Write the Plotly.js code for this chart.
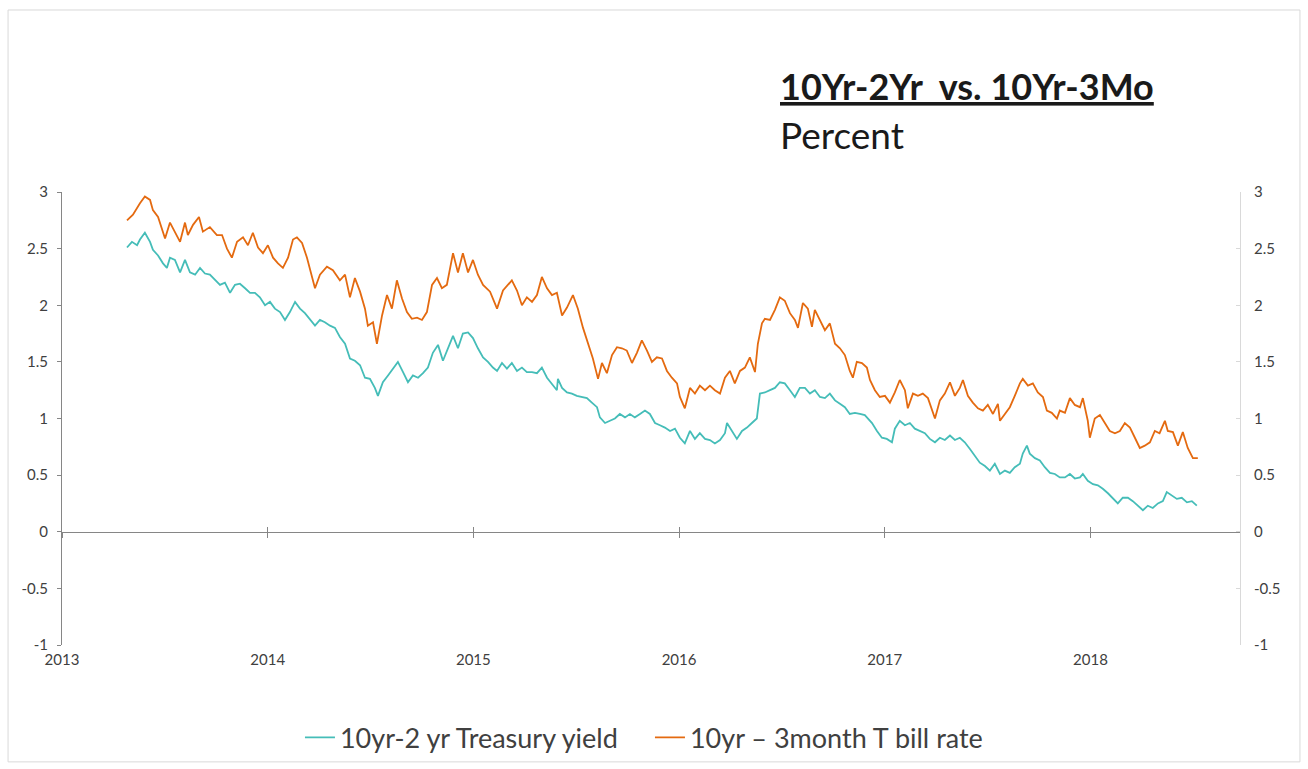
<!DOCTYPE html>
<html><head><meta charset="utf-8">
<script src="https://cdn.plot.ly/plotly-3.0.1.min.js"></script>
<style>html,body{margin:0;padding:0;background:#fff}#chart{width:1308px;height:769px}</style>
</head><body><div id="chart"></div>
<script>
// 10yr - 2yr Treasury spread (decimal year, percent)
const dates2y = [2013.316,2013.340,2013.365,2013.379,2013.403,2013.428,2013.442,2013.467,2013.491,2013.510,2013.525,2013.549,2013.574,2013.598,2013.622,2013.647,2013.671,2013.695,2013.719,2013.744,2013.768,2013.792,2013.817,2013.841,2013.865,2013.890,2013.914,2013.938,2013.962,2013.987,
2014.011,2014.035,2014.060,2014.084,2014.108,2014.133,2014.157,2014.181,2014.206,2014.230,2014.254,2014.278,2014.303,2014.327,2014.351,2014.376,2014.400,2014.424,2014.449,2014.473,2014.497,2014.521,2014.536,2014.560,2014.585,2014.609,2014.633,2014.658,2014.682,2014.706,2014.731,2014.755,2014.779,2014.803,2014.828,2014.852,2014.876,2014.901,2014.925,2014.949,2014.974,2014.998,
2015.022,2015.047,2015.071,2015.095,2015.115,2015.139,2015.163,2015.187,2015.212,2015.236,2015.260,2015.285,2015.309,2015.333,2015.358,2015.382,2015.406,2015.411,2015.431,2015.455,2015.479,2015.503,2015.528,2015.552,2015.576,2015.601,2015.615,2015.640,2015.664,2015.688,2015.712,2015.737,2015.761,2015.785,2015.810,2015.834,2015.858,2015.883,2015.907,2015.931,2015.956,2015.980,
2016.004,2016.028,2016.053,2016.077,2016.101,2016.126,2016.150,2016.174,2016.199,2016.223,2016.233,2016.257,2016.281,2016.306,2016.330,2016.354,2016.378,2016.393,2016.417,2016.442,2016.466,2016.490,2016.514,2016.539,2016.563,2016.587,2016.612,2016.636,2016.660,2016.685,2016.709,2016.733,2016.758,2016.782,2016.806,2016.830,2016.855,2016.879,2016.903,2016.913,2016.938,2016.962,2016.986,
2017.010,2017.035,2017.049,2017.073,2017.098,2017.122,2017.146,2017.171,2017.195,2017.219,2017.244,2017.268,2017.292,2017.317,2017.341,2017.365,2017.389,2017.414,2017.438,2017.462,2017.487,2017.511,2017.535,2017.560,2017.584,2017.608,2017.632,2017.657,2017.671,2017.691,2017.705,2017.730,2017.754,2017.778,2017.803,2017.827,2017.851,2017.876,2017.900,2017.924,2017.949,2017.963,2017.987,
2018.012,2018.036,2018.060,2018.085,2018.109,2018.133,2018.157,2018.182,2018.206,2018.230,2018.255,2018.279,2018.303,2018.328,2018.352,2018.371,2018.396,2018.420,2018.444,2018.469,2018.493,2018.517];
const spread2y = [2.51,2.56,2.53,2.58,2.64,2.56,2.49,2.44,2.37,2.33,2.42,2.40,2.29,2.40,2.29,2.27,2.33,2.28,2.27,2.22,2.18,2.20,2.11,2.18,2.19,2.15,2.11,2.11,2.07,2.00,
2.03,1.97,1.94,1.87,1.94,2.03,1.97,1.93,1.87,1.82,1.87,1.85,1.82,1.80,1.72,1.66,1.53,1.51,1.47,1.36,1.35,1.27,1.20,1.32,1.38,1.44,1.50,1.41,1.32,1.38,1.36,1.40,1.45,1.58,1.65,1.51,1.62,1.73,1.62,1.75,1.76,1.71,
1.62,1.54,1.50,1.45,1.42,1.49,1.44,1.49,1.42,1.45,1.41,1.41,1.40,1.45,1.36,1.31,1.25,1.35,1.27,1.23,1.22,1.20,1.19,1.18,1.14,1.10,1.01,0.96,0.98,1.00,1.04,1.01,1.04,1.01,1.04,1.07,1.04,0.96,0.94,0.92,0.89,0.91,
0.83,0.78,0.89,0.82,0.87,0.82,0.81,0.78,0.81,0.87,0.96,0.89,0.82,0.89,0.92,0.96,1.00,1.22,1.23,1.25,1.27,1.32,1.31,1.25,1.19,1.27,1.27,1.22,1.25,1.19,1.18,1.22,1.16,1.13,1.10,1.04,1.05,1.04,1.03,1.01,0.96,0.89,0.83,
0.82,0.79,0.91,0.98,0.94,0.96,0.91,0.89,0.87,0.82,0.79,0.83,0.81,0.85,0.81,0.83,0.79,0.73,0.67,0.61,0.58,0.54,0.60,0.51,0.54,0.52,0.57,0.60,0.69,0.76,0.69,0.65,0.63,0.57,0.52,0.51,0.48,0.48,0.51,0.47,0.48,0.51,0.45,
0.42,0.41,0.38,0.34,0.29,0.25,0.30,0.30,0.27,0.23,0.19,0.23,0.21,0.25,0.27,0.35,0.32,0.29,0.30,0.26,0.27,0.23];

// 10yr - 3month T bill spread (decimal year, percent)
const dates3m = [2013.316,2013.345,2013.379,2013.403,2013.428,2013.442,2013.467,2013.501,2013.525,2013.549,2013.574,2013.598,2013.612,2013.637,2013.666,2013.685,2013.719,2013.753,2013.778,2013.802,2013.826,2013.851,2013.880,2013.904,2013.928,2013.953,2013.977,
2014.001,2014.026,2014.050,2014.074,2014.099,2014.123,2014.142,2014.167,2014.191,2014.215,2014.230,2014.254,2014.288,2014.317,2014.351,2014.376,2014.400,2014.424,2014.449,2014.473,2014.487,2014.512,2014.531,2014.556,2014.580,2014.604,2014.628,2014.653,2014.677,2014.701,2014.726,2014.750,2014.774,2014.799,2014.823,2014.847,2014.871,2014.901,2014.925,2014.949,2014.974,2014.998,
2015.022,2015.047,2015.081,2015.115,2015.144,2015.187,2015.212,2015.236,2015.260,2015.285,2015.309,2015.333,2015.358,2015.382,2015.406,2015.431,2015.455,2015.484,2015.508,2015.533,2015.557,2015.581,2015.606,2015.625,2015.649,2015.674,2015.698,2015.722,2015.746,2015.771,2015.795,2015.819,2015.844,2015.868,2015.892,2015.917,2015.941,2015.965,2015.990,
2016.004,2016.028,2016.053,2016.077,2016.101,2016.126,2016.150,2016.174,2016.199,2016.223,2016.247,2016.271,2016.296,2016.320,2016.344,2016.369,2016.383,2016.403,2016.417,2016.442,2016.466,2016.490,2016.514,2016.539,2016.563,2016.578,2016.602,2016.626,2016.646,2016.660,2016.685,2016.709,2016.733,2016.758,2016.782,2016.806,2016.830,2016.845,2016.864,2016.889,2016.913,2016.928,2016.952,2016.976,
2017.001,2017.025,2017.049,2017.073,2017.098,2017.112,2017.137,2017.161,2017.185,2017.210,2017.244,2017.268,2017.292,2017.317,2017.341,2017.365,2017.380,2017.404,2017.428,2017.453,2017.477,2017.501,2017.526,2017.550,2017.560,2017.584,2017.608,2017.632,2017.657,2017.671,2017.696,2017.720,2017.744,2017.769,2017.788,2017.812,2017.837,2017.851,2017.876,2017.900,2017.924,2017.949,2017.963,2017.987,2017.997,
2018.021,2018.046,2018.070,2018.094,2018.119,2018.143,2018.167,2018.192,2018.216,2018.240,2018.264,2018.289,2018.313,2018.336,2018.362,2018.376,2018.401,2018.425,2018.449,2018.473,2018.498,2018.522];
const spread3m = [2.75,2.80,2.90,2.96,2.93,2.84,2.78,2.59,2.73,2.65,2.56,2.73,2.62,2.71,2.78,2.65,2.69,2.62,2.62,2.50,2.42,2.56,2.60,2.53,2.64,2.51,2.46,
2.53,2.42,2.37,2.33,2.42,2.58,2.60,2.55,2.42,2.24,2.15,2.27,2.34,2.31,2.22,2.27,2.07,2.24,2.12,1.97,1.82,1.85,1.66,1.91,2.09,1.97,2.22,2.06,1.94,1.88,1.89,1.87,1.94,2.18,2.24,2.15,2.18,2.46,2.29,2.46,2.29,2.40,
2.27,2.18,2.12,1.97,2.13,2.22,2.13,2.00,2.07,2.03,2.09,2.25,2.15,2.09,2.11,1.91,1.98,2.09,1.97,1.80,1.67,1.53,1.35,1.49,1.40,1.56,1.63,1.62,1.60,1.49,1.58,1.69,1.60,1.50,1.54,1.53,1.42,1.36,1.31,
1.19,1.09,1.27,1.22,1.29,1.25,1.29,1.25,1.22,1.36,1.42,1.31,1.42,1.45,1.54,1.41,1.66,1.84,1.88,1.87,1.96,2.07,2.04,1.93,1.87,1.80,2.02,1.97,1.81,1.96,1.87,1.78,1.84,1.66,1.62,1.56,1.42,1.36,1.50,1.49,1.45,1.34,1.25,1.19,
1.20,1.14,1.23,1.34,1.25,1.09,1.22,1.20,1.22,1.18,1.00,1.16,1.22,1.32,1.20,1.27,1.34,1.20,1.14,1.09,1.07,1.12,1.04,1.13,0.98,1.04,1.10,1.20,1.31,1.35,1.29,1.31,1.23,1.19,1.07,1.05,1.00,1.07,1.05,1.18,1.12,1.10,1.18,0.98,0.83,
1.00,1.03,0.96,0.89,0.87,0.89,0.96,0.92,0.83,0.74,0.76,0.79,0.89,0.87,0.98,0.89,0.88,0.76,0.88,0.74,0.65,0.65];

const yearTicks = [2013,2014,2015,2016,2017,2018];
const yearLabels = ['2013','2014','2015','2016','2017','2018'];
const yTickVals = [-1,-0.5,0,0.5,1,1.5,2,2.5,3];
const yTickText = ['-1','-0.5','0','0.5','1','1.5','2','2.5','3'];
const seriesNames = ['10yr-2 yr Treasury yield','10yr \u2013 3month T bill rate'];
const xRange = [2013, 2018.727];

const FONT = 'Lato, Carlito, "Open Sans", sans-serif';
const traces = [
  {x: dates2y, y: spread2y, name: seriesNames[0], type: 'scatter', mode: 'lines',
   xaxis: 'x', yaxis: 'y', line: {color: '#45BDB8', width: 1.8}},
  {x: dates3m, y: spread3m, name: seriesNames[1], type: 'scatter', mode: 'lines',
   xaxis: 'x2', yaxis: 'y2', line: {color: '#E46A10', width: 1.8}},
  // empty helper trace so the upward half of the zero-line ticks is drawn
  {x: [], y: [], type: 'scatter', mode: 'lines', xaxis: 'x3', yaxis: 'y', showlegend: false, hoverinfo: 'skip'}
];

const layout = {
  width: 1308, height: 769,
  paper_bgcolor: '#ffffff', plot_bgcolor: 'rgba(0,0,0,0)',
  margin: {l: 62, r: 68, t: 192, b: 124, autoexpand: false},
  font: {family: FONT, color: '#404040'},
  showlegend: true,
  legend: {orientation: 'h', x: 0.2020, xanchor: 'left', y: -0.205, yanchor: 'middle',
           entrywidth: 305, entrywidthmode: 'pixels',
           font: {family: FONT, size: 27, color: '#404040'}, bgcolor: 'rgba(0,0,0,0)'},
  xaxis: {range: xRange, tickvals: yearTicks, ticktext: yearLabels, showline: false, ticks: '',
          showgrid: false, zeroline: false, tickfont: {size: 15, color: '#404040'}, ticklabelstandoff: 4, automargin: false},
  xaxis2: {range: xRange, overlaying: 'x', anchor: 'free', position: 0.25, tickvals: yearTicks,
           showticklabels: false, ticks: 'outside', ticklen: 5, tickcolor: '#868686', tickwidth: 1,
           showline: true, linecolor: '#868686', linewidth: 1, showgrid: false, zeroline: false},
  xaxis3: {range: xRange, overlaying: 'x', anchor: 'free', position: 0.25, tickvals: yearTicks,
           showticklabels: false, ticks: 'inside', ticklen: 5, tickcolor: '#868686', tickwidth: 1,
           showline: false, showgrid: false, zeroline: false},
  yaxis: {range: [-1, 3], tickvals: yTickVals, ticktext: yTickText, showline: true, linecolor: '#868686',
          ticks: 'outside', ticklen: 4, tickcolor: '#868686', showgrid: false, zeroline: false,
          tickfont: {size: 15, color: '#404040'}, ticklabelstandoff: 6, automargin: false},
  yaxis2: {range: [-1, 3], tickvals: yTickVals, ticktext: yTickText, overlaying: 'y', side: 'right', anchor: 'x',
           showline: true, linecolor: '#d9d9d9', ticks: 'inside', ticklen: 4, tickcolor: '#d9d9d9',
           showgrid: false, zeroline: false, tickfont: {size: 15, color: '#404040'}, ticklabelstandoff: 10, automargin: false},
  shapes: [{type: 'rect', xref: 'paper', yref: 'paper', x0: -0.0458, x1: 1.0509, y0: -0.258, y1: 1.4018,
            line: {color: '#d9d9d9', width: 1}, fillcolor: 'rgba(0,0,0,0)', layer: 'below'}],
  annotations: [
    {text: '10Yr-2Yr\u00a0 vs. 10Yr-3Mo', xref: 'paper', yref: 'paper', x: 0.6078, y: 1.2340,
     xanchor: 'left', yanchor: 'middle', showarrow: false,
     font: {family: FONT, size: 36, color: '#1a1a1a', weight: 700, lineposition: 'under'}},
    {text: 'Percent', xref: 'paper', yref: 'paper', x: 0.6078, y: 1.1280,
     xanchor: 'left', yanchor: 'middle', showarrow: false,
     font: {family: FONT, size: 37, color: '#1a1a1a'}}
  ]
};

Plotly.newPlot('chart', traces, layout, {displayModeBar: false, staticPlot: true});
</script>
</body></html>
